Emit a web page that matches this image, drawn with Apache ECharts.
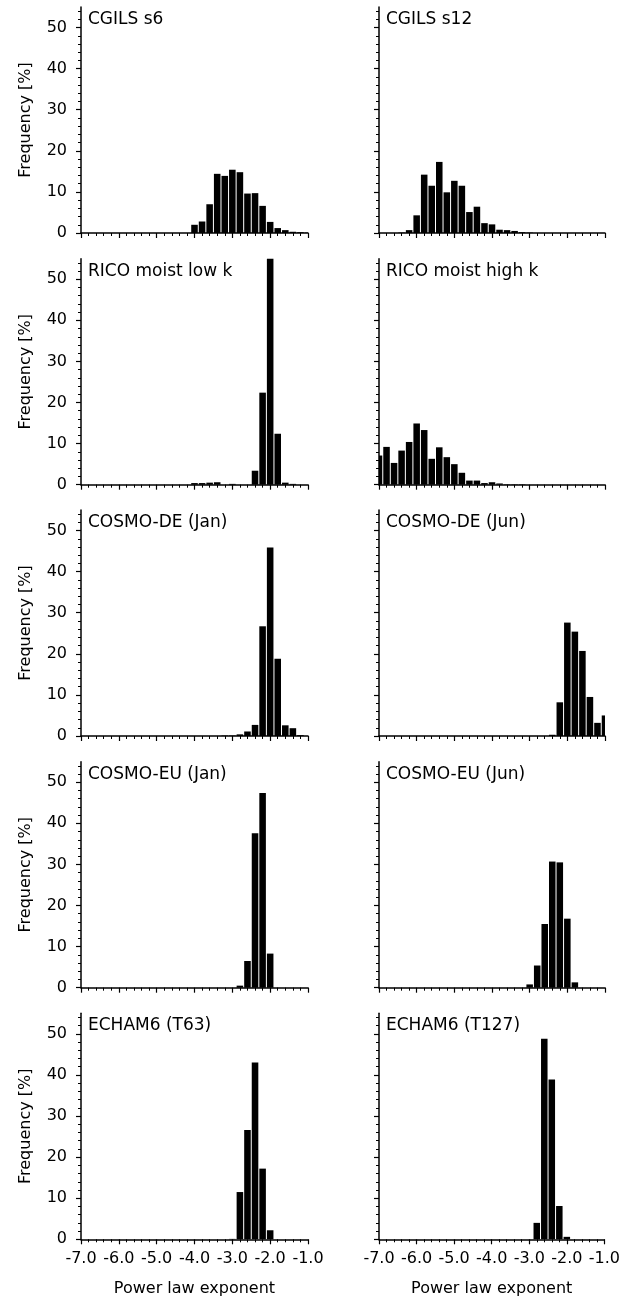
<!DOCTYPE html>
<html>
<head>
<meta charset="utf-8">
<script src="https://cdn.jsdelivr.net/npm/echarts@6/dist/echarts.min.js"></script>
<style>
  html, body { margin: 0; padding: 0; background: #fff; }
  #chart { width: 623px; height: 1303px; }
</style>
</head>
<body>
<div id="chart"></div>
<script>
// Histogram bin centres (bin width 0.2) of the power law exponent
const binCenters = [-7.0, -6.8, -6.6, -6.4, -6.2, -6.0, -5.8, -5.6, -5.4, -5.2,
                    -5.0, -4.8, -4.6, -4.4, -4.2, -4.0, -3.8, -3.6, -3.4, -3.2,
                    -3.0, -2.8, -2.6, -2.4, -2.2, -2.0, -1.8, -1.6, -1.4, -1.2, -1.0];

const panelTitles = ['CGILS s6', 'CGILS s12', 'RICO moist low k', 'RICO moist high k',
                     'COSMO-DE (Jan)', 'COSMO-DE (Jun)', 'COSMO-EU (Jan)', 'COSMO-EU (Jun)',
                     'ECHAM6 (T63)', 'ECHAM6 (T127)'];

// Frequency [%] per bin
const cgilsS6    = [0, 0, 0, 0, 0, 0, 0, 0, 0, 0, 0, 0, 0, 0, 0,
                    2.0, 2.8, 7.0, 14.4, 13.9, 15.4, 14.8, 9.6, 9.7, 6.6, 2.7, 1.2, 0.7, 0.3, 0.2, 0.1];
const cgilsS12   = [0, 0, 0, 0.1, 0.7, 4.3, 14.2, 11.5, 17.3, 9.9, 12.7, 11.5, 5.1, 6.4, 2.4,
                    2.1, 0.8, 0.7, 0.5, 0.2, 0.1, 0, 0, 0, 0, 0, 0, 0, 0, 0, 0];
const ricoLowK   = [0, 0, 0, 0, 0, 0, 0, 0, 0, 0, 0, 0, 0, 0, 0,
                    0.4, 0.4, 0.5, 0.6, 0, 0.2, 0, 0, 3.4, 22.4, 55.0, 12.4, 0.5, 0.2, 0, 0];
const ricoHighK  = [7.1, 9.2, 5.3, 8.3, 10.4, 14.9, 13.3, 6.3, 9.1, 6.7, 5.0, 2.9, 1.0, 1.0, 0.4,
                    0.6, 0.3, 0.1, 0.1, 0.1, 0, 0, 0, 0, 0, 0, 0, 0, 0, 0, 0];
const cosmoDeJan = [0, 0, 0, 0, 0, 0, 0, 0, 0, 0, 0, 0, 0, 0, 0,
                    0, 0, 0, 0, 0.1, 0.1, 0.4, 1.1, 2.7, 26.7, 45.9, 18.8, 2.6, 1.9, 0.2, 0];
const cosmoDeJun = [0, 0, 0, 0, 0, 0, 0, 0, 0, 0, 0, 0, 0, 0, 0,
                    0, 0, 0, 0, 0, 0, 0, 0, 0.3, 8.2, 27.6, 25.4, 20.7, 9.5, 3.2, 5.0];
const cosmoEuJan = [0, 0, 0, 0, 0, 0, 0, 0, 0, 0, 0, 0, 0, 0, 0,
                    0, 0, 0, 0, 0, 0, 0.5, 6.5, 37.6, 47.4, 8.3, 0, 0, 0, 0, 0];
const cosmoEuJun = [0, 0, 0, 0, 0, 0, 0, 0, 0, 0, 0, 0, 0, 0, 0,
                    0, 0, 0, 0, 0, 0.8, 5.4, 15.5, 30.7, 30.5, 16.8, 1.3, 0, 0, 0, 0];
const echamT63   = [0, 0, 0, 0, 0, 0, 0, 0, 0, 0, 0, 0, 0, 0, 0,
                    0, 0, 0, 0, 0, 0.1, 11.5, 26.6, 43.0, 17.2, 2.2, 0, 0, 0, 0, 0];
const echamT127  = [0, 0, 0, 0, 0, 0, 0, 0, 0, 0, 0, 0, 0, 0, 0,
                    0, 0, 0, 0, 0, 0, 4.0, 48.8, 38.9, 8.1, 0.6, 0, 0, 0, 0, 0];

const panelData = [cgilsS6, cgilsS12, ricoLowK, ricoHighK, cosmoDeJan,
                   cosmoDeJun, cosmoEuJan, cosmoEuJun, echamT63, echamT127];

const yMajorTicks = [0, 10, 20, 30, 40, 50];
const yMinorTicks = [0, 2, 4, 6, 8, 10, 12, 14, 16, 18, 20, 22, 24, 26, 28,
                     30, 32, 34, 36, 38, 40, 42, 44, 46, 48, 50, 52, 54];
const yLabel = 'Frequency [%]';
const xLabel = 'Power law exponent';

// Panel layout (pixels)
const BIN = 0.2;
const X_MIN = -7, X_MAX = -1, Y_MAX = 55;
const COL_LEFT = [81, 379];
const COL_WIDTH = [227, 226];
const ROW_BOTTOM = [233, 484.7, 736, 987.7, 1239.3];
const PLOT_H = 226;
const FONT = '"DejaVu Sans", "Liberation Sans", Arial, sans-serif';

const chart = echarts.init(document.getElementById('chart'), null, { renderer: 'canvas' });

function renderBar(params, api) {
  const x = api.value(0);
  const y = api.value(1);
  if (!(y > 0)) return null;
  const p0 = api.coord([x - BIN / 2, 0]);
  const p1 = api.coord([x + BIN / 2, y]);
  const cs = params.coordSys;
  const shape = echarts.graphic.clipRectByRect(
    { x: p0[0] + 0.5, y: p1[1], width: p1[0] - p0[0] - 1, height: p0[1] - p1[1] },
    { x: cs.x, y: cs.y, width: cs.width, height: cs.height }
  );
  if (!shape) return null;
  return { type: 'rect', shape: shape, style: { fill: '#000' } };
}

const grids = [], xAxes = [], yAxes = [], series = [], graphics = [];

panelData.forEach((values, i) => {
  const row = Math.floor(i / 2);
  const col = i % 2;
  const top = ROW_BOTTOM[row] - PLOT_H;
  const isBottom = row === 4;
  const isLeft = col === 0;

  grids.push({ left: COL_LEFT[col], width: COL_WIDTH[col], top: top, height: PLOT_H });

  xAxes.push({
    type: 'value', gridIndex: i, min: X_MIN, max: X_MAX, interval: 1,
    axisLine: { show: true, onZero: false, lineStyle: { color: '#000', width: 1.5 } },
    axisTick: { show: true, length: 5, lineStyle: { color: '#000', width: 1.2 } },
    minorTick: { show: true, splitNumber: 5, length: 3, lineStyle: { color: '#000', width: 1 } },
    splitLine: { show: false },
    minorSplitLine: { show: false },
    axisLabel: {
      show: isBottom, margin: 12, color: '#000', fontSize: 16, fontFamily: FONT,
      formatter: v => v.toFixed(1)
    },
    name: isBottom ? xLabel : '',
    nameLocation: 'middle', nameGap: 42,
    nameTextStyle: { color: '#000', fontSize: 16, fontFamily: FONT }
  });

  // major y ticks, labels and axis line
  yAxes.push({
    type: 'value', gridIndex: i, position: 'left', min: 0, max: Y_MAX, interval: 10,
    axisLine: { show: true, onZero: false, lineStyle: { color: '#000', width: 1.5 } },
    axisTick: { show: true, length: 5, customValues: yMajorTicks, lineStyle: { color: '#000', width: 1.2 } },
    splitLine: { show: false },
    axisLabel: {
      show: isLeft, customValues: yMajorTicks, margin: 14,
      color: '#000', fontSize: 16, fontFamily: FONT
    },
    name: isLeft ? yLabel : '',
    nameLocation: 'middle', nameGap: 47, nameRotate: 90,
    nameTextStyle: { color: '#000', fontSize: 16, fontFamily: FONT }
  });
  // minor y ticks
  yAxes.push({
    type: 'value', gridIndex: i, position: 'left', offset: 0, min: 0, max: Y_MAX, interval: 2,
    axisLine: { show: false, onZero: false },
    axisTick: { show: true, length: 3, customValues: yMinorTicks, lineStyle: { color: '#000', width: 1 } },
    splitLine: { show: false },
    axisLabel: { show: false }
  });

  series.push({
    type: 'custom', xAxisIndex: i, yAxisIndex: 2 * i,
    renderItem: renderBar,
    encode: { x: 0, y: 1 },
    silent: true,
    data: binCenters.map((c, k) => [c, values[k]])
  });

  graphics.push({
    type: 'text', left: COL_LEFT[col] + 7, top: top + 4,
    style: { text: panelTitles[i], fill: '#000', font: '17px ' + FONT }
  });
});

chart.setOption({
  animation: false,
  backgroundColor: '#fff',
  textStyle: { fontFamily: FONT },
  grid: grids,
  xAxis: xAxes,
  yAxis: yAxes,
  series: series,
  graphic: graphics
});
</script>
</body>
</html>
